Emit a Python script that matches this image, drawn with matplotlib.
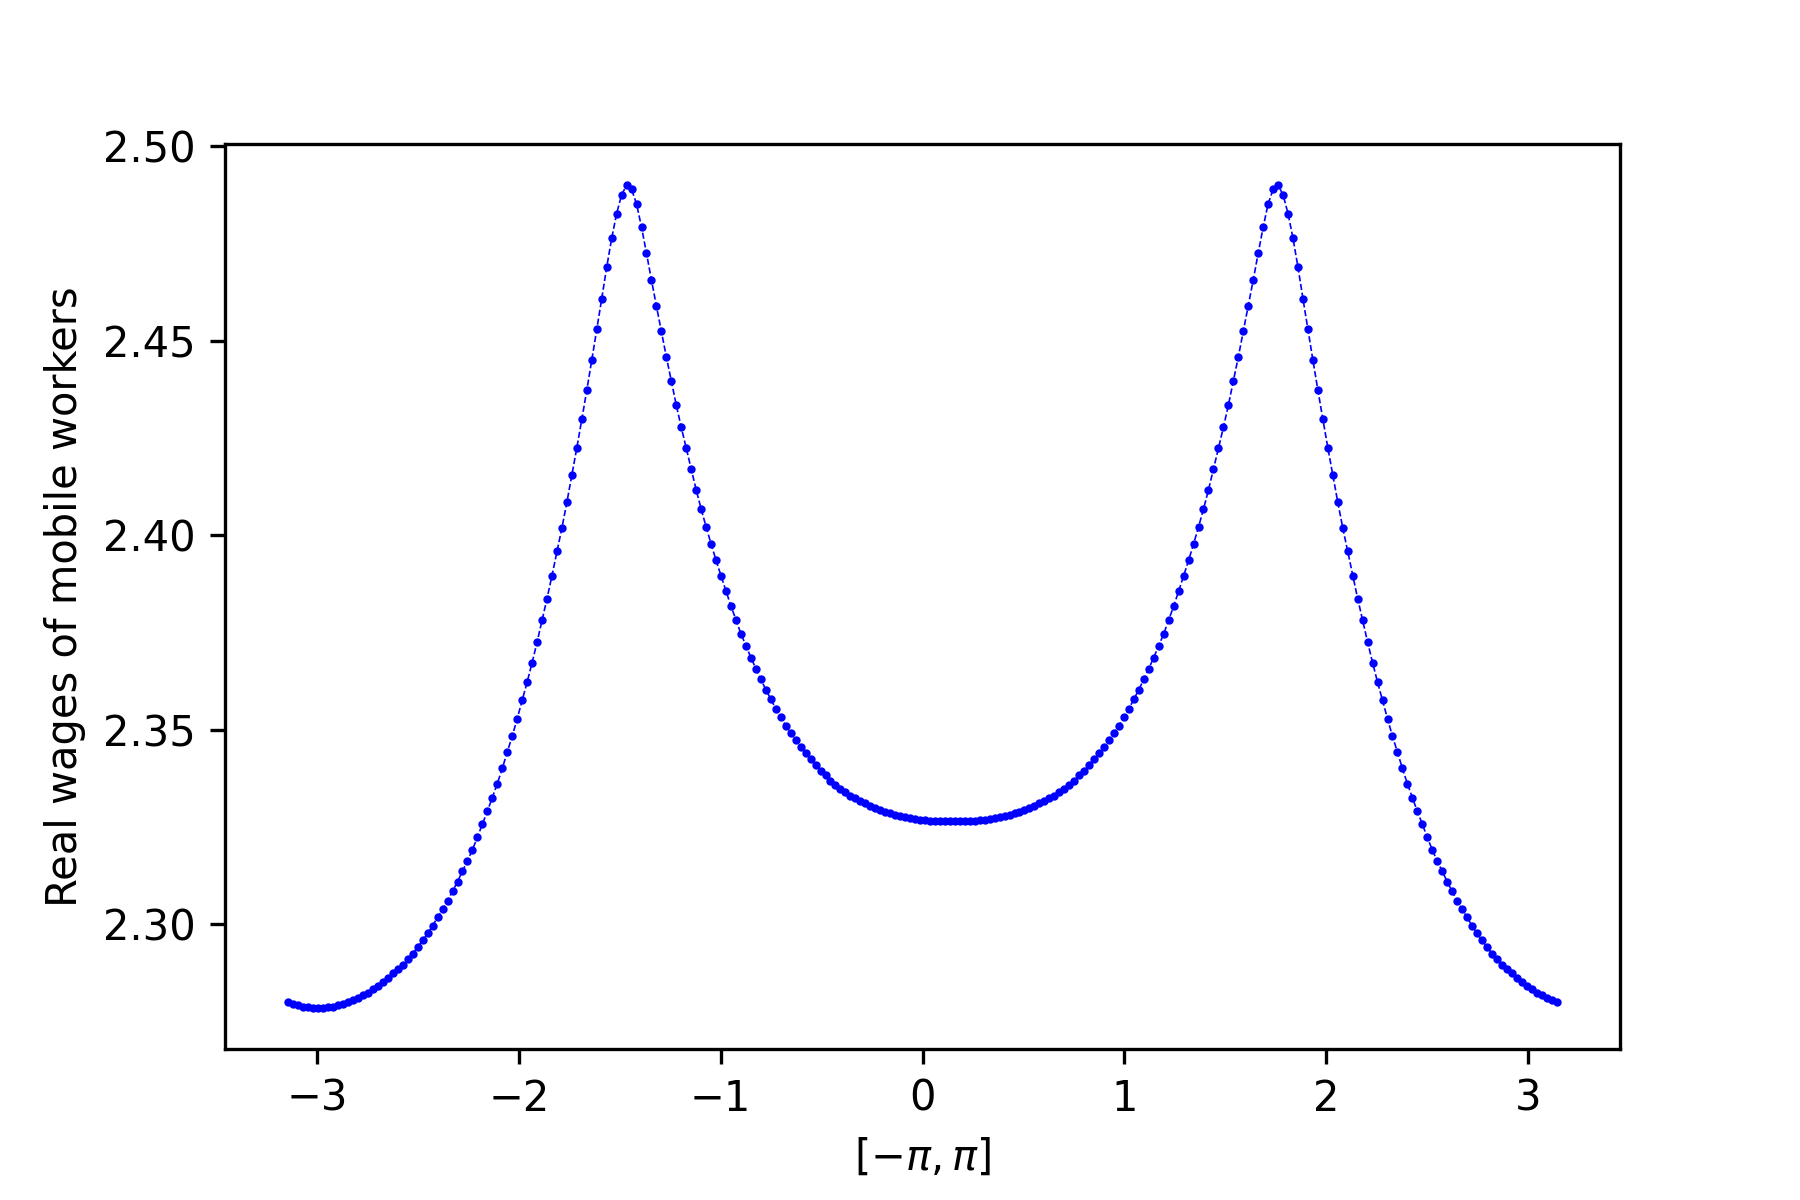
import numpy as np
import matplotlib.pyplot as plt

n_points = 256
theta = np.linspace(-np.pi, np.pi, n_points)

real_wages = [
    2.2799, 2.2795, 2.2791, 2.2788, 2.2786, 2.2785, 2.2785, 2.2785, 2.2786, 2.2788,
    2.2791, 2.2795, 2.2799, 2.2805, 2.2810, 2.2817, 2.2824, 2.2832, 2.2841, 2.2850,
    2.2862, 2.2873, 2.2884, 2.2896, 2.2910, 2.2924, 2.2941, 2.2958, 2.2976, 2.2996,
    2.3017, 2.3038, 2.3060, 2.3084, 2.3109, 2.3136, 2.3162, 2.3191, 2.3223, 2.3257,
    2.3290, 2.3325, 2.3361, 2.3400, 2.3442, 2.3483, 2.3528, 2.3575, 2.3622, 2.3672,
    2.3725, 2.3781, 2.3837, 2.3896, 2.3958, 2.4019, 2.4085, 2.4155, 2.4225, 2.4298,
    2.4373, 2.4450, 2.4529, 2.4608, 2.4689, 2.4763, 2.4827, 2.4875, 2.4900, 2.4889,
    2.4852, 2.4792, 2.4725, 2.4656, 2.4589, 2.4524, 2.4458, 2.4396, 2.4334, 2.4277,
    2.4223, 2.4169, 2.4116, 2.4067, 2.4021, 2.3977, 2.3935, 2.3895, 2.3856, 2.3817,
    2.3782, 2.3746, 2.3716, 2.3685, 2.3657, 2.3629, 2.3603, 2.3578, 2.3554, 2.3532,
    2.3510, 2.3492, 2.3474, 2.3455, 2.3440, 2.3425, 2.3410, 2.3394, 2.3382, 2.3369,
    2.3358, 2.3348, 2.3339, 2.3330, 2.3323, 2.3317, 2.3310, 2.3304, 2.3298, 2.3293,
    2.3289, 2.3285, 2.3281, 2.3278, 2.3275, 2.3272, 2.3270, 2.3268, 2.3267, 2.3266,
    2.3265, 2.3265, 2.3264, 2.3264, 2.3264, 2.3264, 2.3265, 2.3265, 2.3266, 2.3267,
    2.3268, 2.3270, 2.3272, 2.3275, 2.3278, 2.3281, 2.3285, 2.3289, 2.3293, 2.3298,
    2.3304, 2.3310, 2.3317, 2.3323, 2.3330, 2.3339, 2.3348, 2.3358, 2.3369, 2.3382,
    2.3394, 2.3410, 2.3425, 2.3440, 2.3455, 2.3474, 2.3492, 2.3510, 2.3532, 2.3554,
    2.3578, 2.3603, 2.3629, 2.3657, 2.3685, 2.3716, 2.3746, 2.3782, 2.3817, 2.3856,
    2.3895, 2.3935, 2.3977, 2.4021, 2.4067, 2.4116, 2.4169, 2.4223, 2.4277, 2.4334,
    2.4396, 2.4458, 2.4524, 2.4589, 2.4656, 2.4725, 2.4792, 2.4852, 2.4889, 2.4900,
    2.4875, 2.4827, 2.4763, 2.4689, 2.4608, 2.4529, 2.4450, 2.4373, 2.4298, 2.4225,
    2.4155, 2.4085, 2.4019, 2.3958, 2.3896, 2.3837, 2.3781, 2.3725, 2.3672, 2.3622,
    2.3575, 2.3528, 2.3483, 2.3442, 2.3400, 2.3361, 2.3325, 2.3290, 2.3257, 2.3223,
    2.3191, 2.3162, 2.3136, 2.3109, 2.3084, 2.3060, 2.3038, 2.3017, 2.2996, 2.2976,
    2.2958, 2.2941, 2.2924, 2.2910, 2.2896, 2.2884, 2.2873, 2.2862, 2.2850, 2.2841,
    2.2832, 2.2824, 2.2817, 2.2810, 2.2805, 2.2799,
]

fig = plt.figure(figsize=(6, 4), dpi=300)
plt.subplots_adjust(left=0.125, right=0.9, bottom=0.126, top=0.88)
plt.plot(theta, real_wages, 'b--o', linewidth=0.4, markersize=1.5, markeredgewidth=0.5)
plt.xlabel(r'$[-\pi, \pi]$')
plt.ylabel('Real wages of mobile workers')
plt.savefig('out.png', dpi=300)
